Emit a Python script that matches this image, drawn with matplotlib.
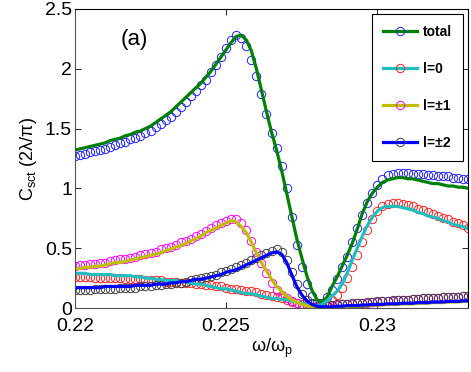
import numpy as np
import matplotlib
matplotlib.use('Agg')
import matplotlib.pyplot as plt
from matplotlib.lines import Line2D

plt.rcParams['font.family'] = ['Liberation Sans', 'DejaVu Sans']
plt.rcParams['mathtext.fontset'] = 'custom'
plt.rcParams['mathtext.rm'] = 'Liberation Sans'
plt.rcParams['mathtext.it'] = 'Liberation Sans:italic'

# frequency grid omega/omega_p (79 samples, 0.22 .. 0.233)
omega = np.linspace(0.22, 0.233, 79)

# solid lines (model)
total_line = [1.32, 1.33, 1.34, 1.35, 1.36, 1.37, 1.38, 1.40, 1.41, 1.42,
              1.44, 1.45, 1.47, 1.48, 1.50, 1.52, 1.55, 1.58, 1.61, 1.64,
              1.68, 1.72, 1.76, 1.80, 1.84, 1.88, 1.93, 1.98, 2.04, 2.10,
              2.16, 2.22, 2.27, 2.28, 2.24, 2.15, 2.00, 1.82, 1.64, 1.47,
              1.32, 1.15, 0.96, 0.77, 0.58, 0.42, 0.27, 0.15, 0.07, 0.05,
              0.09, 0.18, 0.26, 0.35, 0.44, 0.54, 0.66, 0.79, 0.89, 0.96,
              1.01, 1.05, 1.07, 1.08, 1.09, 1.09, 1.08, 1.08, 1.07, 1.06,
              1.05, 1.04, 1.04, 1.03, 1.02, 1.02, 1.01, 1.01, 1.00]
l0_line = [0.29, 0.29, 0.29, 0.28, 0.28, 0.28, 0.28, 0.28, 0.27, 0.27,
           0.27, 0.27, 0.26, 0.26, 0.25, 0.25, 0.24, 0.24, 0.23, 0.23,
           0.23, 0.22, 0.22, 0.21, 0.20, 0.20, 0.19, 0.18, 0.17, 0.16,
           0.16, 0.15, 0.14, 0.13, 0.12, 0.12, 0.11, 0.10, 0.09, 0.08,
           0.08, 0.07, 0.07, 0.06, 0.05, 0.04, 0.03, 0.02, 0.02, 0.03,
           0.06, 0.10, 0.14, 0.20, 0.29, 0.40, 0.50, 0.60, 0.69, 0.76,
           0.81, 0.84, 0.85, 0.85, 0.85, 0.84, 0.83, 0.82, 0.80, 0.79,
           0.77, 0.76, 0.75, 0.73, 0.72, 0.70, 0.69, 0.68, 0.66]
l1_line = [0.33, 0.33, 0.34, 0.34, 0.35, 0.35, 0.36, 0.37, 0.38, 0.38,
           0.39, 0.40, 0.41, 0.42, 0.43, 0.44, 0.45, 0.46, 0.48, 0.49,
           0.51, 0.52, 0.54, 0.56, 0.58, 0.60, 0.63, 0.65, 0.67, 0.69,
           0.71, 0.73, 0.72, 0.68, 0.63, 0.55, 0.46, 0.38, 0.31, 0.24,
           0.18, 0.14, 0.10, 0.07, 0.05, 0.03, 0.02, 0.01, 0.005, 0.005,
           0.005, 0.005, 0.01, 0.01, 0.015, 0.015, 0.015, 0.02, 0.02, 0.025,
           0.025, 0.025, 0.03, 0.03, 0.03, 0.035, 0.035, 0.035, 0.04, 0.04,
           0.04, 0.045, 0.045, 0.045, 0.05, 0.05, 0.05, 0.055, 0.055]
l2_line = [0.17, 0.17, 0.17, 0.17, 0.17, 0.17, 0.18, 0.18, 0.18, 0.18,
           0.18, 0.18, 0.19, 0.19, 0.19, 0.19, 0.20, 0.20, 0.20, 0.21,
           0.21, 0.22, 0.22, 0.23, 0.24, 0.24, 0.25, 0.26, 0.27, 0.28,
           0.30, 0.31, 0.32, 0.34, 0.36, 0.38, 0.40, 0.42, 0.44, 0.46,
           0.47, 0.45, 0.38, 0.28, 0.18, 0.11, 0.06, 0.03, 0.015, 0.01,
           0.01, 0.01, 0.015, 0.015, 0.02, 0.02, 0.02, 0.025, 0.025, 0.03,
           0.03, 0.03, 0.035, 0.035, 0.035, 0.04, 0.04, 0.04, 0.045, 0.045,
           0.045, 0.05, 0.05, 0.05, 0.055, 0.055, 0.055, 0.06, 0.06]

# open circles (simulation)
total_pts = [1.27, 1.28, 1.29, 1.30, 1.31, 1.32, 1.33, 1.35, 1.36, 1.38,
             1.39, 1.41, 1.42, 1.44, 1.46, 1.48, 1.51, 1.54, 1.57, 1.60,
             1.64, 1.68, 1.72, 1.77, 1.81, 1.86, 1.91, 1.97, 2.03, 2.10,
             2.17, 2.24, 2.28, 2.26, 2.19, 2.07, 1.94, 1.79, 1.62, 1.46,
             1.34, 1.19, 1.00, 0.76, 0.53, 0.34, 0.20, 0.10, 0.04, 0.04,
             0.09, 0.15, 0.24, 0.34, 0.43, 0.55, 0.67, 0.78, 0.88, 0.96,
             1.03, 1.08, 1.11, 1.12, 1.13, 1.13, 1.13, 1.12, 1.12, 1.12,
             1.11, 1.11, 1.10, 1.10, 1.10, 1.09, 1.09, 1.08, 1.08]
l0_pts = [0.26, 0.26, 0.26, 0.26, 0.25, 0.25, 0.25, 0.25, 0.25, 0.25,
          0.24, 0.24, 0.24, 0.24, 0.23, 0.23, 0.23, 0.23, 0.22, 0.22,
          0.22, 0.21, 0.21, 0.21, 0.20, 0.20, 0.19, 0.19, 0.18, 0.18,
          0.17, 0.16, 0.16, 0.15, 0.14, 0.14, 0.13, 0.12, 0.11, 0.10,
          0.09, 0.08, 0.07, 0.05, 0.04, 0.03, 0.02, 0.01, 0.01, 0.02,
          0.04, 0.07, 0.11, 0.17, 0.25, 0.34, 0.44, 0.55, 0.65, 0.74,
          0.81, 0.85, 0.87, 0.88, 0.88, 0.87, 0.86, 0.85, 0.83, 0.82,
          0.80, 0.79, 0.77, 0.75, 0.74, 0.72, 0.71, 0.69, 0.67]
l1_pts = [0.35, 0.36, 0.36, 0.37, 0.37, 0.38, 0.38, 0.39, 0.40, 0.41,
          0.41, 0.42, 0.43, 0.44, 0.45, 0.46, 0.47, 0.49, 0.50, 0.51,
          0.53, 0.55, 0.56, 0.58, 0.60, 0.62, 0.64, 0.67, 0.69, 0.71,
          0.73, 0.74, 0.74, 0.71, 0.65, 0.56, 0.47, 0.38, 0.29, 0.21,
          0.15, 0.11, 0.08, 0.06, 0.04, 0.02, 0.01, 0.01, 0.01, 0.015,
          0.02, 0.02, 0.025, 0.03, 0.03, 0.035, 0.04, 0.04, 0.045, 0.05,
          0.05, 0.055, 0.06, 0.06, 0.065, 0.07, 0.07, 0.075, 0.075, 0.08,
          0.08, 0.085, 0.085, 0.09, 0.09, 0.095, 0.095, 0.10, 0.10]
l2_pts = [0.15, 0.15, 0.15, 0.15, 0.16, 0.16, 0.16, 0.16, 0.16, 0.17,
          0.17, 0.17, 0.17, 0.18, 0.18, 0.18, 0.19, 0.19, 0.20, 0.20,
          0.21, 0.21, 0.22, 0.23, 0.24, 0.25, 0.26, 0.27, 0.28, 0.30,
          0.31, 0.33, 0.34, 0.36, 0.38, 0.40, 0.42, 0.44, 0.46, 0.48,
          0.49, 0.47, 0.40, 0.30, 0.20, 0.12, 0.07, 0.04, 0.02, 0.02,
          0.02, 0.025, 0.03, 0.03, 0.035, 0.04, 0.04, 0.045, 0.05, 0.05,
          0.055, 0.06, 0.06, 0.065, 0.065, 0.07, 0.07, 0.075, 0.075, 0.08,
          0.08, 0.085, 0.085, 0.09, 0.09, 0.095, 0.095, 0.10, 0.10]

labels = ['total', 'l=0', 'l=\u00b11', 'l=\u00b12']
line_colors = ['#008000', '#1fbfbf', '#bfbf00', '#0000ff']
pt_colors = ['#2020ff', '#ff2020', '#ff00ff', '#404040']

fig = plt.figure(figsize=(4.71, 3.72), dpi=100)
ax = fig.add_axes([0.159, 0.172, 0.835, 0.804])

pts = [total_pts, l0_pts, l1_pts, l2_pts]
lines = [total_line, l0_line, l1_line, l2_line]
for p, c in zip(pts, pt_colors):
    ax.plot(omega, p, 'o', ms=6, mfc='none', mec=c, mew=0.7)
for y, c in zip(lines, line_colors):
    ax.plot(omega, y, '-', color=c, lw=2.3)

ax.set_xlim(0.22, 0.233)
ax.set_ylim(0, 2.5)
ax.set_xticks([0.22, 0.225, 0.23])
ax.set_xticklabels(['0.22', '0.225', '0.23'])
ax.set_yticks([0, 0.5, 1, 1.5, 2, 2.5])
ax.set_yticklabels(['0', '0.5', '1', '1.5', '2', '2.5'])
ax.tick_params(direction='in', length=4, width=0.6, labelsize=14,
               top=True, right=True)
ax.tick_params(axis='x', pad=7.5)
ax.tick_params(axis='y', pad=2)
for s in ['left', 'bottom']:
    ax.spines[s].set_color('#505050')
for s in ax.spines.values():
    s.set_linewidth(0.8)

ax.set_xlabel('\u03c9/\u03c9$_{\\mathrm{p}}$', fontsize=13, labelpad=1)
ax.set_ylabel('C$_{\\mathrm{sct}}$ (2\u03bb/\u03c0)', fontsize=13, labelpad=4)
ax.text(0.2215, 2.2, '(a)', fontsize=16)

handles = [Line2D([], [], color=lc, lw=2.3, marker='o', ms=6, mfc='none',
                  mec=pc, mew=0.7) for lc, pc in zip(line_colors, pt_colors)]
leg = ax.legend(handles, labels, loc='upper right', bbox_to_anchor=(1, 1),
                borderaxespad=0.35, numpoints=1, handlelength=2.4,
                handletextpad=0.45, labelspacing=1.65, borderpad=0.8,
                fancybox=False, framealpha=1,
                prop={'size': 10, 'weight': 'bold'})
leg.get_frame().set_edgecolor('black')
leg.get_frame().set_linewidth(0.8)

fig.savefig('out.png', dpi=100)
